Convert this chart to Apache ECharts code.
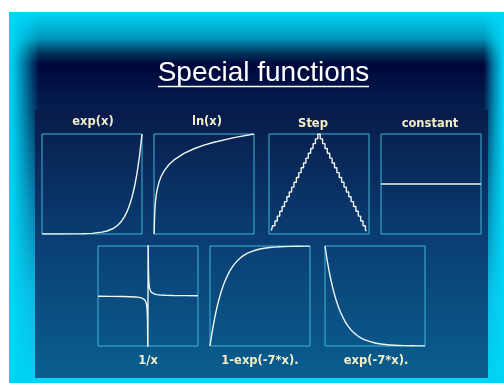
<!DOCTYPE html>
<html><head><meta charset="utf-8">
<script src="https://cdn.jsdelivr.net/npm/echarts@6/dist/echarts.min.js"></script>
<style>html,body{margin:0;padding:0;background:#fff}#c{width:504px;height:383px}</style>
</head><body><div id="c"></div>
<script>
// ---- data ----
const titleText = 'Special functions';
const panelLabels = ['exp(x)', 'ln(x)', 'Step', 'constant', '1/x', '1-exp(-7*x).', 'exp(-7*x).'];

const expX = [0, 1, 2, 3, 4, 5, 6, 6.5, 7, 7.25, 7.5, 7.75, 8, 8.25, 8.5, 8.75, 9, 9.25, 9.5, 9.75, 10];
const expY = [1, 2.72, 7.39, 20.1, 54.6, 148, 403, 665, 1097, 1408, 1808, 2322, 2981, 3827, 4915, 6311, 8103, 10405, 13360, 17154, 22026];

const lnX = [1, 1.5, 2, 3, 4, 6, 8, 12, 16, 25, 35, 50, 75, 100, 150, 200, 250, 300, 400, 500];
const lnY = [0, 0.405, 0.693, 1.099, 1.386, 1.792, 2.079, 2.485, 2.773, 3.219, 3.555, 3.912, 4.317, 4.605, 5.011, 5.298, 5.521, 5.704, 5.991, 6.215];

const stepX = [0,1,2,3,4,5,6,7,8,9,10,11,12,13,14,15,16,17,18,19,20,21,22,23,24,25,26,27,28,29,30,31,32,33,34,35,36,37,38,39,40];
const stepY = [0,1,2,3,4,5,6,7,8,9,10,11,12,13,14,15,16,17,18,19,20,19,18,17,16,15,14,13,12,11,10,9,8,7,6,5,4,3,2,1,0];

const constX = [0, 1];
const constY = [0.5, 0.5];

const invX = [-2, -1.5, -1, -0.7, -0.5, -0.35, -0.25, -0.18, -0.13, -0.1, -0.08, -0.06, -0.045, -0.035, -0.025, -0.018, -0.012, -0.008, -0.005,
              0.005, 0.008, 0.012, 0.018, 0.025, 0.035, 0.045, 0.06, 0.08, 0.1, 0.13, 0.18, 0.25, 0.35, 0.5, 0.7, 1, 1.5, 2];
const invY = [-0.5, -0.667, -1, -1.429, -2, -2.857, -4, -5.556, -7.692, -10, -12.5, -16.67, -22.22, -28.57, -40, -55.56, -83.33, -125, -200,
              200, 125, 83.33, 55.56, 40, 28.57, 22.22, 16.67, 12.5, 10, 7.692, 5.556, 4, 2.857, 2, 1.429, 1, 0.667, 0.5];

const decX = [0, 0.025, 0.05, 0.075, 0.1, 0.125, 0.15, 0.2, 0.25, 0.3, 0.35, 0.4, 0.5, 0.6, 0.7, 0.8, 0.9, 1];
const growY = [0, 0.161, 0.295, 0.408, 0.503, 0.583, 0.650, 0.753, 0.826, 0.878, 0.914, 0.939, 0.970, 0.985, 0.9926, 0.9963, 0.9982, 0.9991];
const decY = [1, 0.839, 0.705, 0.592, 0.497, 0.417, 0.350, 0.247, 0.174, 0.122, 0.086, 0.061, 0.030, 0.015, 0.0074, 0.0037, 0.0018, 0.0009];

// ---- layout ----
const boxes = [[42,134],[154,134],[269,134],[381,134],[98,246],[210,246],[325,246]];
const labelPos = [[93,122.5],[207,122.5],[313,124.5],[430,124.5],[148,361],[260,361],[376,361]];
const ranges = [
  {x:[0,10], y:[0,22026]},
  {x:[0,500], y:[0,6.215]},
  {x:[-1,41], y:[-0.7,20]},
  {x:[0,1], y:[0,1]},
  {x:[-2,2], y:[-100,100]},
  {x:[0,1], y:[0,1]},
  {x:[0,1], y:[0,1]}
];
const seriesData = [
  [expX, expY, false], [lnX, lnY, false], [stepX, stepY, false], [constX, constY, false],
  [invX, invY, false], [decX, growY, true], [decX, decY, true]
];

const pair = (xs, ys) => xs.map((x, i) => [x, ys[i]]);
const cyan = '#00d4f4';

const grids = boxes.map(b => ({
  left: b[0], top: b[1], width: 100, height: 100, show: true,
  borderColor: '#3fb6d8', borderWidth: 1, backgroundColor: 'transparent', containLabel: false
}));
const hiddenAxis = {show: false, splitLine: {show: false}, axisLine: {show: false}, axisTick: {show: false}, axisLabel: {show: false}};
const xAxes = ranges.map((r, i) => Object.assign({type: 'value', gridIndex: i, min: r.x[0], max: r.x[1]}, hiddenAxis));
const yAxes = ranges.map((r, i) => Object.assign({type: 'value', gridIndex: i, min: r.y[0], max: r.y[1]}, hiddenAxis));
const series = seriesData.map((s, i) => ({
  type: 'line', xAxisIndex: i, yAxisIndex: i, data: pair(s[0], s[1]),
  showSymbol: false, symbol: 'none', smooth: s[2] ? 0.3 : false,
  step: i === 2 ? 'middle' : false,
  lineStyle: {color: '#eef4ee', width: 1.4}, animation: false, silent: true
}));

const graphics = [
  {type: 'rect', z: -100, shape: {x: 9, y: 12, width: 495, height: 371},
   style: {fill: new echarts.graphic.LinearGradient(0, 0, 0, 1, [
     {offset: 0, color: '#00d8f8'}, {offset: 0.07, color: '#0098bc'},
     {offset: 0.11, color: '#00385c'}, {offset: 0.14, color: '#00063c'},
     {offset: 0.264, color: '#022050'}, {offset: 0.507, color: '#0a6a98'},
     {offset: 0.776, color: '#0fb4e0'}, {offset: 1, color: '#00d0f4'}])}},
  {type: 'rect', z: -99, shape: {x: 9, y: 12, width: 30, height: 371},
   style: {fill: new echarts.graphic.LinearGradient(0, 0, 1, 0, [
     {offset: 0, color: 'rgba(0,214,246,1)'}, {offset: 0.22, color: 'rgba(0,214,246,0.85)'}, {offset: 1, color: 'rgba(0,214,246,0)'}])}},
  {type: 'rect', z: -99, shape: {x: 484, y: 12, width: 20, height: 371},
   style: {fill: new echarts.graphic.LinearGradient(0, 0, 1, 0, [
     {offset: 0, color: 'rgba(0,214,246,0)'}, {offset: 0.5, color: 'rgba(0,214,246,0.6)'}, {offset: 1, color: 'rgba(0,214,246,1)'}])}},
  {type: 'rect', z: -98, shape: {x: 35, y: 110, width: 453, height: 268},
   style: {fill: new echarts.graphic.LinearGradient(0, 0, 0, 1, [
     {offset: 0, color: '#081b4a'}, {offset: 0.5, color: '#0a3f74'}, {offset: 1, color: '#0a5e90'}])}},
  {type: 'rect', z: -97, shape: {x: 9, y: 378, width: 495, height: 5}, style: {fill: cyan}},
  {type: 'text', z: 10, style: {text: titleText, x: 263.5, y: 73, align: 'center', verticalAlign: 'middle',
     font: '28px "Liberation Sans", Arial, sans-serif', fill: '#ffffff'}},
  {type: 'line', z: 10, shape: {x1: 158, y1: 86.5, x2: 369, y2: 86.5}, style: {stroke: '#ffffff', lineWidth: 1.5}}
];
panelLabels.forEach((t, i) => {
  graphics.push({type: 'text', z: 10, style: {text: t, x: labelPos[i][0], y: labelPos[i][1], align: 'center', verticalAlign: 'middle',
    font: 'bold 11.5px "DejaVu Sans", Verdana, sans-serif', fill: '#f4eec8'}});
});

const chart = echarts.init(document.getElementById('c'), null, {renderer: 'canvas'});
chart.setOption({
  backgroundColor: '#ffffff', animation: false,
  grid: grids, xAxis: xAxes, yAxis: yAxes, series: series, graphic: graphics
});
</script></body></html>
